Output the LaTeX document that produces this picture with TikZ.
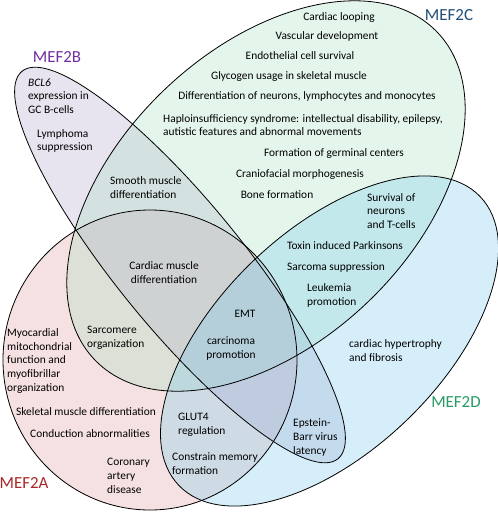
\documentclass[tikz,border=0pt]{standalone}
\usepackage{fontspec}
\setmainfont{Carlito}
\definecolor{fillA}{RGB}{222,158,158}
\definecolor{fillB}{RGB}{178,165,205}
\definecolor{fillC}{RGB}{168,222,192}
\definecolor{fillD}{RGB}{118,202,238}
\definecolor{labA}{RGB}{170,40,40}
\definecolor{labB}{RGB}{112,48,160}
\definecolor{labC}{RGB}{31,78,121}
\definecolor{labD}{RGB}{40,155,100}
\begin{document}
\begin{tikzpicture}[x=1pt,y=-1pt,
  setfill/.style={fill opacity=0.3},
  outline/.style={draw=black, line width=0.8pt},
  txt/.style={font=\fontsize{11.4}{13.8}\selectfont, inner sep=0pt, text=black},
  lt/.style={txt, anchor=west, align=left},
  ct/.style={txt, anchor=center, align=center},
  setlabel/.style={font=\fontsize{16.9}{18}\selectfont, inner sep=0pt, anchor=center}
]
\useasboundingbox (0,0) rectangle (498,512);
\fill[white] (0,0) rectangle (498,512);

% set fills (A at the bottom, D on top)
\fill[fillA, setfill] (150,360) ellipse [x radius=147, y radius=150];
\fill[fillB, setfill, rotate around={-50.8:(180,265)}] (180,265) ellipse [x radius=250, y radius=63];
\fill[fillC, setfill, rotate around={43.7:(266,196)}] (266,196) ellipse [x radius=237, y radius=147];
\fill[fillD, setfill, rotate around={43.8:(329.5,341)}] (329.5,341) ellipse [x radius=208.7, y radius=110.6];

% set outlines
\draw[outline] (150,360) ellipse [x radius=147, y radius=150];
\draw[outline, rotate around={-50.8:(180,265)}] (180,265) ellipse [x radius=250, y radius=63];
\draw[outline, rotate around={43.7:(266,196)}] (266,196) ellipse [x radius=237, y radius=147];
\draw[outline, rotate around={43.8:(329.5,341)}] (329.5,341) ellipse [x radius=208.7, y radius=110.6];

% set labels
\node[setlabel, text=labA] (labelA) at (24,483) {MEF2A};
\node[setlabel, text=labB] (labelB) at (57,57) {MEF2B};
\node[setlabel, text=labC] (labelC) at (449,15) {MEF2C};
\node[setlabel, text=labD] (labelD) at (456,402) {MEF2D};

% MEF2C only
\node[ct] (c1) at (339,18) {Cardiac looping};
\node[ct] (c2) at (327,36) {Vascular development};
\node[ct] (c3) at (300,56) {Endothelial cell survival};
\node[ct] (c4) at (289,77) {Glycogen usage in skeletal muscle};
\node[ct] (c5) at (307,96) {Differentiation of neurons, lymphocytes and monocytes};
\node[lt] (c6) at (163,125) {Haploinsufficiency syndrome: intellectual disability, epilepsy,\\autistic features and abnormal movements};
\node[ct] (c7) at (334,154) {Formation of germinal centers};
\node[ct] (c8) at (300,175) {Craniofacial morphogenesis};
\node[ct] (c9) at (277,195) {Bone formation};

% MEF2C and MEF2D
\node[lt] (cd1) at (367,211) {Survival of\\neurons\\and T-cells};
\node[ct] (cd2) at (345,246) {Toxin induced Parkinsons};
\node[ct] (cd3) at (336,267) {Sarcoma suppression};
\node[lt] (cd4) at (307,295.5) {Leukemia\\promotion};

% MEF2D only
\node[lt] (d1) at (349,350.5) {cardiac hypertrophy\\and fibrosis};

% MEF2B and MEF2D
\node[lt] (bd1) at (293,437.5) {Epstein-\\Barr virus\\latency};

% all four
\node[ct] (all1) at (245,314) {EMT};
\node[ct] (all2) at (231,348.5) {carcinoma\\promotion};

% MEF2A and MEF2D
\node[lt] (ad1) at (178,425) {GLUT4\\regulation};
\node[lt] (ad2) at (172,463.5) {Constrain memory\\formation};

% MEF2A only
\node[lt] (a1) at (7,361) {Myocardial\\mitochondrial\\function and\\myofibrillar\\organization};
\node[ct] (a2) at (86,412) {Skeletal muscle differentiation};
\node[ct] (a3) at (90,434) {Conduction abnormalities};
\node[lt] (a4) at (107,476) {Coronary\\artery\\disease};

% MEF2A and MEF2C
\node[lt] (ac1) at (87,338) {Sarcomere\\organization};

% MEF2A, MEF2B and MEF2C
\node[ct] (abc1) at (164,272.5) {Cardiac muscle\\differentiation};

% MEF2B and MEF2C
\node[lt] (bc1) at (110,187.5) {Smooth muscle\\differentiation};

% MEF2B only
\node[lt] (b1) at (28,96) {\textit{BCL6}\\expression in\\GC B-cells};
\node[lt] (b2) at (37,141) {Lymphoma\\suppression};
\end{tikzpicture}
\end{document}
